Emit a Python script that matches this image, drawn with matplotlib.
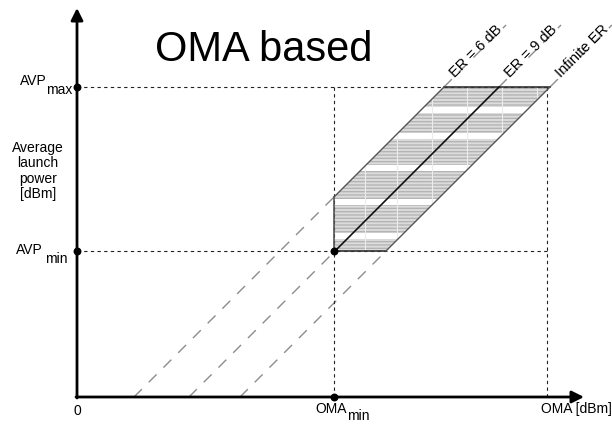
import matplotlib
matplotlib.use('Agg')
import matplotlib.pyplot as plt
from matplotlib.patches import Polygon
import numpy as np

plt.rcParams['font.family'] = ['Liberation Sans', 'DejaVu Sans']

# key levels (drawing units, 1 unit = 1 px, both axes)
oma_min = 257
oma_max = 470
avp_min = 146
avp_max = 310
x_end = 507
y_end = 389

# extinction ratio lines: AVP = OMA - offset
er_labels = ['ER = 6 dB', 'ER = 9 dB', 'Infinite ER']
er_offsets = [57, 112, 163]

fig = plt.figure(figsize=(6.12, 4.24), dpi=100)
ax = fig.add_axes([0, 0, 1, 1])
ax.set_xlim(-77, 535)
ax.set_ylim(-27, 397)
ax.axis('off')

lo, mid, hi = er_offsets

# shaded region
verts = [(oma_min, avp_min), (avp_min + hi, avp_min), (avp_max + hi, avp_max),
         (avp_max + lo, avp_max), (oma_min, oma_min - lo)]
ax.add_patch(Polygon(verts, closed=True, facecolor='#dcdcdc', edgecolor='none', zorder=1))
ax.add_patch(Polygon(verts, closed=True, facecolor='none', edgecolor='#b4b4b4',
                     hatch='-----', lw=0, zorder=1))
# white bands of the scan
clip = Polygon(verts, closed=True, transform=ax.transData)
for yb in [284, 258, 226, 192, 158]:
    r = ax.axhspan(yb, yb + 6, color='white', lw=0, zorder=1.5)
    r.set_clip_path(clip)
for xv in [288, 320, 355, 390, 425, 460]:
    l = ax.axvline(xv, color='#ececec', lw=0.8, zorder=1.6)
    l.set_clip_path(clip)

# region outline
ax.plot([oma_min, avp_min + hi], [avp_min, avp_min], color='#333333', lw=1.2, zorder=3)
ax.plot([avp_max + lo, avp_max + hi], [avp_max, avp_max], color='#333333', lw=1.2, zorder=3)
ax.plot([oma_min, oma_min], [avp_min, oma_min - lo], color='#555555', lw=1.2, zorder=3)
ax.plot([oma_min, avp_max + lo], [oma_min - lo, avp_max], color='#555555', lw=1, zorder=3)
ax.plot([avp_min + hi, avp_max + hi], [avp_min, avp_max], color='#555555', lw=1, zorder=3)
ax.plot([oma_min, avp_max + mid], [oma_min - mid, avp_max], color='#111111', lw=1.2, zorder=3)

# dashed extensions of the ER lines
top = 372
for lab, off in zip(er_labels, er_offsets):
    y0 = oma_min - lo if off == lo else avp_min
    ax.plot([off, y0 + off], [0, y0], color='#8c8c8c', lw=1, dashes=(8, 7), zorder=2)
    ax.plot([avp_max + off, top + off], [avp_max, top], color='#8c8c8c', lw=1,
            dashes=(8, 7), zorder=2)
    ty = avp_max + 10
    ax.text(ty + off + 1, ty - 1, lab, rotation=45, rotation_mode='anchor',
            ha='left', va='baseline', fontsize=10.5, zorder=4)

# guide lines
kw = dict(color='#222222', lw=0.8, dashes=(3, 3), zorder=2)
ax.plot([0, oma_max], [avp_max, avp_max], **kw)
ax.plot([0, oma_max], [avp_min, avp_min], **kw)
ax.plot([oma_min, oma_min], [0, avp_max], **kw)
ax.plot([oma_max, oma_max], [0, avp_max], **kw)

# axes with arrows
ax.annotate('', xy=(0, y_end), xytext=(0, -1),
            arrowprops=dict(arrowstyle='-|>', lw=2, color='black', mutation_scale=18,
                            shrinkA=0, shrinkB=0), zorder=5)
ax.annotate('', xy=(x_end, 0), xytext=(-1, 0),
            arrowprops=dict(arrowstyle='-|>', lw=2, color='black', mutation_scale=18,
                            shrinkA=0, shrinkB=0), zorder=5)

ax.scatter([0, 0, oma_min, oma_min], [avp_max, avp_min, avp_min, 0],
           s=22, color='black', zorder=6)

# labels (main text + lowered subscript)
fs = 10
ax.text(-30, avp_max + 6, 'AVP', ha='right', va='center', fontsize=fs)
ax.text(-5, avp_max - 3, 'max', ha='right', va='center', fontsize=fs)
ax.text(-34, avp_min + 1, 'AVP', ha='right', va='center', fontsize=fs)
ax.text(-9, avp_min - 8, 'min', ha='right', va='center', fontsize=fs)
ax.text(-39, 226, 'Average\nlaunch\npower\n[dBm]', ha='center', va='center',
        fontsize=10, linespacing=1.1)
ax.text(0, -14, '0', ha='center', va='center', fontsize=fs)
ax.text(oma_min + 13, -12, 'OMA', ha='right', va='center', fontsize=fs)
ax.text(oma_min + 13, -19, 'min', ha='left', va='center', fontsize=fs)
ax.text(535, -12, 'OMA [dBm]', ha='right', va='center', fontsize=fs)
ax.text(187, 347, 'OMA based', ha='center', va='center', fontsize=30)

fig.savefig('out.png', dpi=100)
